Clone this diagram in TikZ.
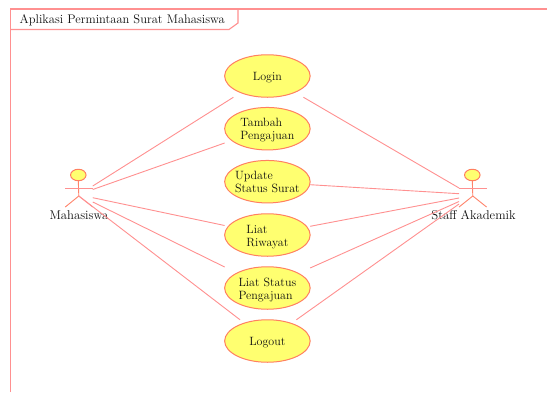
\documentclass[tikz,border=0pt]{standalone}
\usetikzlibrary{shapes.geometric}
\definecolor{umlline}{HTML}{FF9090}
\definecolor{umledge}{HTML}{FF8060}
\definecolor{umlfill}{HTML}{FFFF70}
\definecolor{umltext}{HTML}{101010}
\newcommand{\uctext}[1]{\makebox[0pt]{\smash{\raisebox{-5pt}{\begin{tabular}[c]{@{}l@{}}#1\end{tabular}}}}}
\tikzset{
  x=1pt,y=-1pt,
  every node/.style={text=umltext,font=\fontsize{12}{13}\selectfont},
  usecase/.style={ellipse,draw=umledge,fill=umlfill,line width=1pt,minimum width=85.5pt,minimum height=42.5pt,inner sep=0pt,outer sep=0pt},
  actorhead/.style={ellipse,draw=umledge,fill=umlfill,line width=1pt,minimum width=15.5pt,minimum height=11.5pt,inner sep=0pt,outer sep=0pt},
  actorbox/.style={minimum width=27.5pt,minimum height=19pt,inner sep=0pt,outer sep=0pt},
  actorlabel/.style={inner sep=0pt,font=\fontsize{12.7}{13}\selectfont},
  assoc/.style={draw=umlline,line width=0.9pt},
  stick/.style={draw=umledge!80!umlline,line width=0.9pt},
  framel/.style={draw=umlline,line width=1.1pt}
}
\begin{document}
\begin{tikzpicture}
\useasboundingbox (0,0) rectangle (547,392);
\fill[white] (0,0) rectangle (547,392);
% frame
\coordinate (fbl) at (10.5,392);
\coordinate (ftl) at (10.5,9);
\coordinate (ftr) at (547,9);
\coordinate (tabl) at (10.5,29.5);
\coordinate (tabm) at (229,29.5);
\coordinate (tabn) at (238,23);
\coordinate (tabt) at (238,9);
\draw[framel] (fbl) -- (ftl) -- (ftr);
\draw[framel] (tabl) -- (tabm) -- (tabn) -- (tabt);
\node[anchor=west,inner sep=0pt,font=\fontsize{12.5}{13}\selectfont] (title) at (19.5,20) {Aplikasi Permintaan Surat Mahasiswa};
% use cases
\node[usecase] (login) at (267.4,76) {\uctext{Login}};
\node[usecase] (tambah) at (267.4,128.7) {\uctext{Tambah\\Pengajuan}};
\node[usecase] (update) at (267.4,181.7) {\uctext{Update\\Status Surat}};
\node[usecase] (riwayat) at (267.4,235) {\uctext{Liat\\Riwayat}};
\node[usecase] (status) at (267.4,288) {\uctext{Liat Status\\Pengajuan}};
\node[usecase] (logout) at (267.4,341) {\uctext{Logout}};
% actors
\node[actorhead] (mhead) at (78.3,175) {};
\node[actorbox] (mbody) at (79,197.5) {};
\node[actorlabel] (mlabel) at (79,215) {Mahasiswa};
\node[actorhead] (shead) at (472.3,175) {};
\node[actorbox] (sbody) at (472.8,197.5) {};
\node[actorlabel] (slabel) at (473.5,215) {Staff Akademik};
\coordinate (mhip) at (78.8,196);
\coordinate (ship) at (472.8,196);
\draw[stick] (mhead.south) -- (mhip);
\draw[stick] (mhip) -- (mbody.south west);
\draw[assoc] (mhip) -- (mbody.south east);
\draw[assoc] (mbody.north west) -- (mbody.north east);
\draw[stick] (shead.south) -- (ship);
\draw[stick] (ship) -- (sbody.south west);
\draw[stick] (ship) -- (sbody.south east);
\draw[assoc] (sbody.north west) -- (sbody.north east);
% associations: left actor
\draw[assoc] ([yshift=2pt]mbody.north east) -- ([xshift=-34pt]login.south);
\draw[assoc] ([yshift=-1.5pt]mbody.north east) -- ([yshift=-14.3pt]tambah.west);
\draw[assoc] ([yshift=-9.7pt]mbody.north east) -- ([yshift=9.5pt]riwayat.west);
\draw[assoc] ([yshift=-14pt]mbody.north east) -- ([yshift=21pt]status.west);
\draw[assoc] (mhip) -- ([xshift=-27.4pt]logout.north);
% associations: right actor
\draw[assoc] (sbody.north west) -- ([xshift=36pt]login.south);
\draw[assoc] ([yshift=-5.7pt]sbody.north west) -- ([yshift=-3pt]update.east);
\draw[assoc] ([yshift=-10pt]sbody.north west) -- ([yshift=8.7pt]riwayat.east);
\draw[assoc] ([yshift=-13.5pt]sbody.north west) -- ([yshift=20pt]status.east);
\draw[assoc] ([yshift=-16pt]sbody.north west) -- ([xshift=29pt]logout.north);
\end{tikzpicture}
\end{document}
